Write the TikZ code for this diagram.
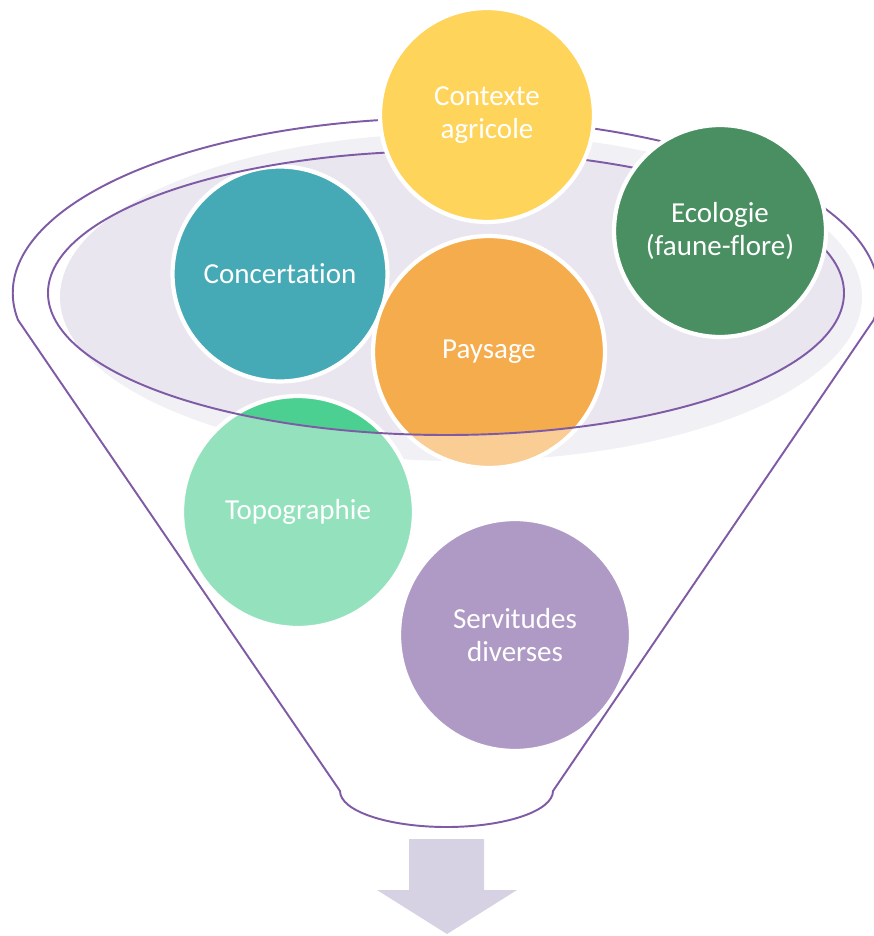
\documentclass[tikz,border=0pt]{standalone}
\usepackage{fontspec}
\setmainfont{Carlito}[Ligatures=NoCommon]
\begin{document}
\begin{tikzpicture}[x=0.02cm,y=0.02cm]
  % palette
  \definecolor{funnelline}{HTML}{7F5BA6}
  \definecolor{surface}{HTML}{E9E6EF}
  \definecolor{arrowfill}{HTML}{D7D2E3}
  \definecolor{cAgri}{HTML}{FFD45B}
  \definecolor{cEco}{HTML}{4A8F62}
  \definecolor{cConc}{HTML}{46AAB6}
  \definecolor{cPays}{HTML}{F5AC4D}
  \definecolor{cTopo}{HTML}{4BD092}
  \definecolor{cServ}{HTML}{7B57A0}
  \tikzset{
    topic/.style={circle, inner sep=0pt, draw=white, line width=2.4pt,
      text=white, align=center,
      font=\fontsize{16.5}{19}\selectfont},
    rim/.style={draw=funnelline, line width=1.1pt},
  }
  \useasboundingbox (0,0) rectangle (874,-936);

  % liquid surface inside the funnel
  \fill[surface] (461,-297) ellipse [x radius=401, y radius=164];

  % topics sinking into the funnel
  \node[topic, fill=cConc, minimum size=4.3cm] (conc) at (280,-274) {Concertation};
  \node[topic, fill=cPays, minimum size=4.64cm] (pays) at (489,-352) {Paysage};
  \node[topic, fill=cTopo, minimum size=4.64cm] (topo) at (298,-512) {Topographie};
  \node[topic, fill=cServ, minimum size=4.64cm] (serv) at (515,-635) {Servitudes\\diverses};

  % translucent funnel wall outside the surface opening
  \fill[white, fill opacity=0.4, even odd rule]
    (0,0) rectangle (874,-936)
    (446,-293) ellipse [x radius=398, y radius=142];

  % funnel outline
  \draw[rim] (18,-320)
    arc [start angle=188.87, end angle=-8.87, x radius=433, y radius=175]
    -- (553,-791)
    arc [start angle=0, end angle=-180, x radius=106.5, y radius=36]
    -- cycle;
  \draw[rim] (446,-293) ellipse [x radius=398, y radius=142];

  % topics resting on top
  \node[topic, fill=cAgri, minimum size=4.28cm] (agri) at (487,-115) {Contexte\\agricole};
  \node[topic, fill=cEco, minimum size=4.24cm] (eco) at (720,-231) {Ecologie\\(faune-flore)};

  % output arrow
  \fill[arrowfill] (409,-839) -- (484,-839) -- (484,-890) -- (517,-890)
    -- (447,-934) -- (377,-890) -- (409,-890) -- cycle;
\end{tikzpicture}
\end{document}
